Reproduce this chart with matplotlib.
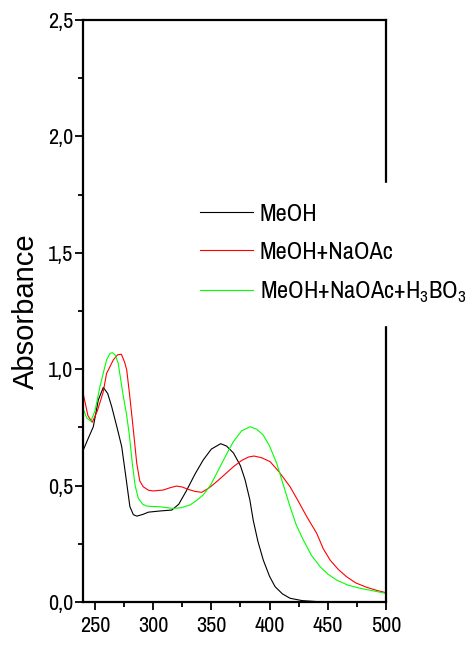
import matplotlib
matplotlib.use('Agg')
import matplotlib.pyplot as plt
from matplotlib.ticker import MultipleLocator, FuncFormatter

x_meoh = [240, 244, 248.6, 252.9, 257.2, 261, 264.4, 269.5, 273, 276.5, 280, 283,
          286, 291, 296, 306, 316, 322, 328.8, 336, 343, 350, 358, 363, 369, 375,
          379, 383, 386, 390, 394.6, 400, 404.7, 411, 417.6, 428, 440, 455]
y_meoh = [0.653, 0.70, 0.753, 0.868, 0.922, 0.895, 0.839, 0.739, 0.667, 0.54, 0.41, 0.375,
          0.369, 0.376, 0.386, 0.391, 0.395, 0.42, 0.48, 0.55, 0.61, 0.657, 0.68, 0.67, 0.64, 0.585,
          0.524, 0.44, 0.35, 0.26, 0.18, 0.11, 0.066, 0.035, 0.016, 0.006, 0.002, 0.0]

x_naoac = [240, 244, 247.7, 252, 257, 260, 265.8, 269.5, 272.7, 275.5, 277.3, 280, 283,
           285.9, 288.5, 291.5, 296, 300, 308.7, 314, 320, 325, 330, 336, 341.7, 348,
           354.6, 362, 368.9, 376, 382, 386.6, 393, 400.4, 408, 417.6, 425, 432, 440.5,
           446, 452, 459, 466, 474, 483.5, 492, 500]
y_naoac = [0.893, 0.80, 0.772, 0.82, 0.90, 0.982, 1.04, 1.062, 1.064, 1.03, 0.997, 0.88, 0.739,
           0.596, 0.52, 0.495, 0.48, 0.477, 0.481, 0.49, 0.498, 0.494, 0.484, 0.475, 0.471, 0.49,
           0.517, 0.55, 0.581, 0.608, 0.623, 0.627, 0.62, 0.603, 0.56, 0.495, 0.43, 0.366, 0.295,
           0.23, 0.18, 0.14, 0.109, 0.082, 0.063, 0.05, 0.040]

x_boric = [240, 243, 246.5, 250, 254.3, 257, 260, 263, 265, 267.5, 270, 274.4, 277, 279.5,
           282, 284.5, 287.3, 291, 294.5, 300, 306, 312, 317.3, 324, 331.7, 337, 343, 349,
           354.6, 362, 368.9, 376, 383.2, 389, 394.6, 400, 406.1, 412, 417.6, 423, 429, 436,
           443.4, 450, 457.7, 467, 477.7, 490, 500]
y_boric = [0.828, 0.79, 0.777, 0.82, 0.925, 0.98, 1.04, 1.068, 1.071, 1.06, 1.025, 0.882, 0.81, 0.72,
           0.60, 0.50, 0.445, 0.42, 0.412, 0.41, 0.409, 0.405, 0.402, 0.405, 0.417, 0.435, 0.46, 0.50,
           0.553, 0.625, 0.689, 0.735, 0.753, 0.742, 0.717, 0.67, 0.596, 0.50, 0.409, 0.33, 0.266, 0.2,
           0.152, 0.12, 0.094, 0.073, 0.059, 0.047, 0.037]

labels = ['MeOH', 'MeOH+NaOAc', r'MeOH+NaOAc+H$_\mathregular{3}$BO$_\mathregular{3}$']

plt.rcParams['font.family'] = ['Archivo Narrow', 'Liberation Sans', 'DejaVu Sans']
plt.rcParams['mathtext.fontset'] = 'custom'
plt.rcParams['mathtext.rm'] = 'Archivo Narrow'

fig = plt.figure(figsize=(4.73, 6.45), dpi=100)
ax = fig.add_axes([83.3 / 473, 43 / 645, (386 - 83.3) / 473, 582 / 645])

ax.plot(x_meoh, y_meoh, color='black', lw=0.8, label=labels[0])
ax.plot(x_naoac, y_naoac, color='#ff0000', lw=0.8, label=labels[1])
ax.plot(x_boric, y_boric, color='#00ff00', lw=0.8, label=labels[2])

ax.set_xlim(240, 500)
ax.set_ylim(0, 2.5)

ax.xaxis.set_major_locator(MultipleLocator(50))
ax.xaxis.set_minor_locator(MultipleLocator(25))
ax.yaxis.set_major_locator(MultipleLocator(0.5))
ax.yaxis.set_minor_locator(MultipleLocator(0.25))
ax.yaxis.set_major_formatter(FuncFormatter(lambda v, p: f'{v:.1f}'.replace('.', ',')))

ax.tick_params(which='both', direction='out', width=1.3, labelsize=16,
               top=False, right=False)
ax.tick_params(which='major', length=6, pad=1)
ax.tick_params(which='minor', length=3.5)
ax.tick_params(axis='x', pad=4)

for s in ax.spines.values():
    s.set_linewidth(1.6)

ax.set_ylabel('Absorbance', fontsize=21, family=['Liberation Sans', 'DejaVu Sans'], labelpad=6)

# leyenda con fondo blanco que tapa el eje derecho, como en el original
leg = ax.legend(loc='center left', bbox_to_anchor=(0.379, 0.606),
                bbox_transform=fig.transFigure, fontsize=17.5, frameon=True,
                handlelength=2.18, handletextpad=0.29, labelspacing=0.7,
                borderpad=0.85, borderaxespad=0, fancybox=False)
leg.get_frame().set_facecolor('white')
leg.get_frame().set_edgecolor('white')
leg.get_frame().set_alpha(1)
for ln in leg.get_lines():
    ln.set_linewidth(0.8)

plt.savefig('out.png', dpi=100)
